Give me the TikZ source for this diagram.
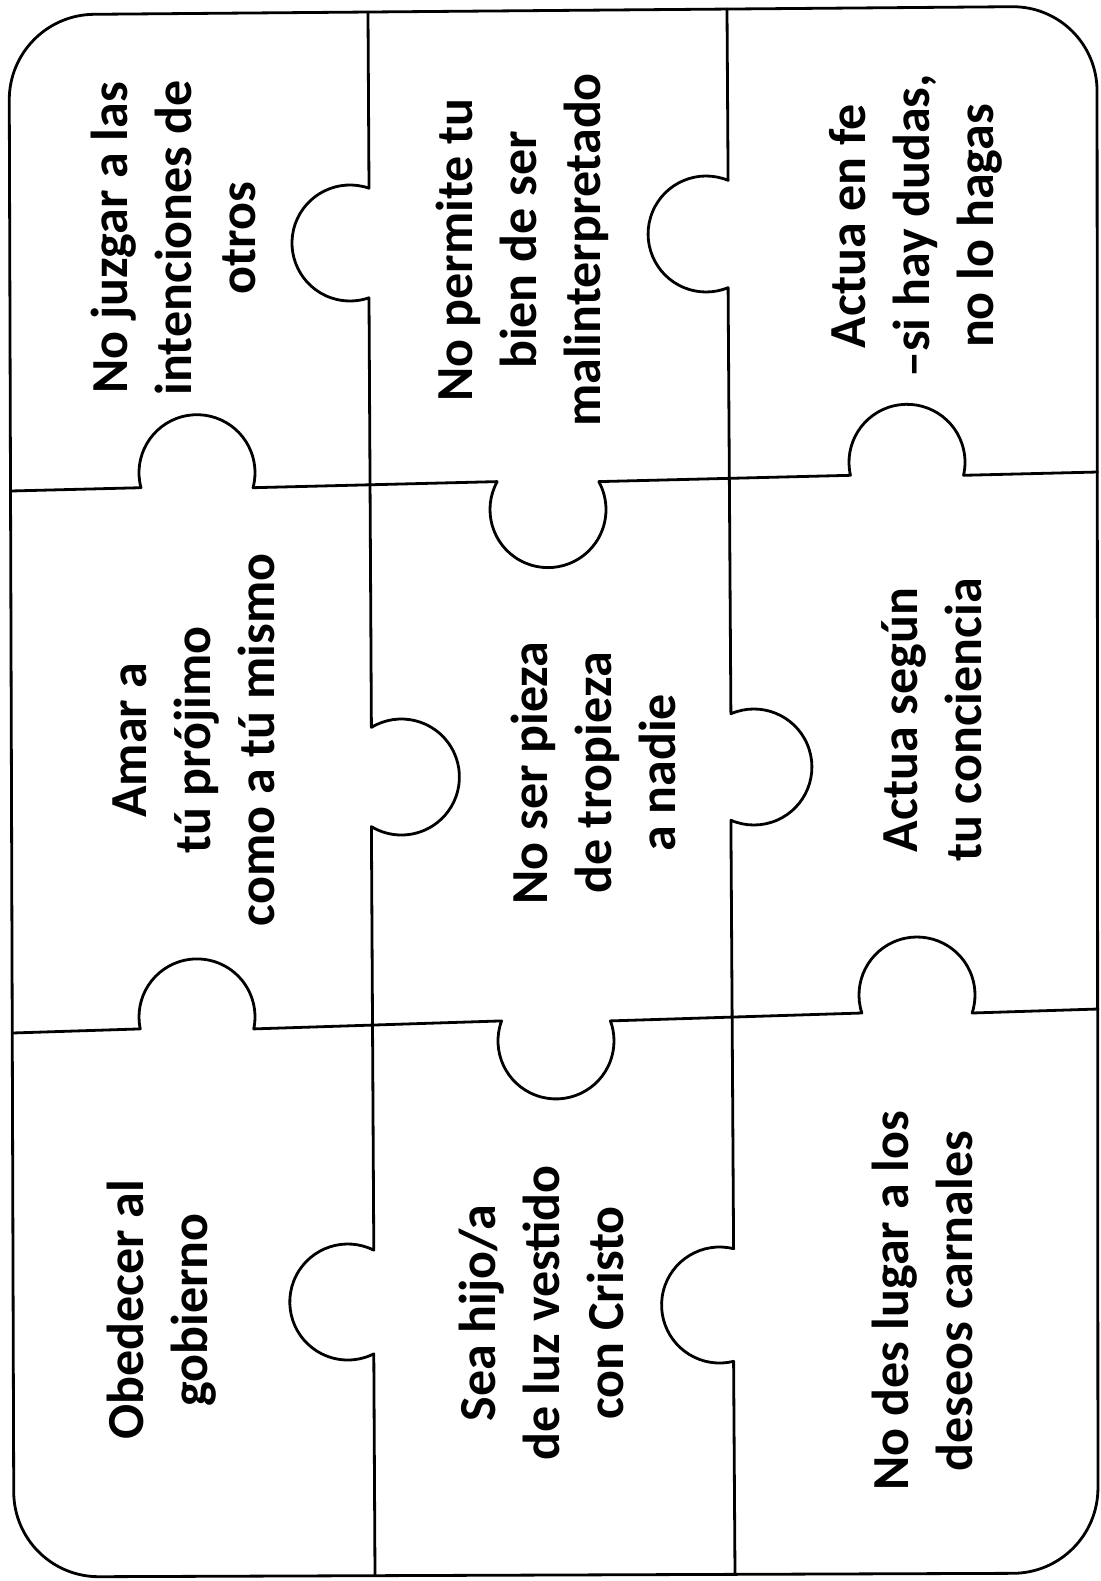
\documentclass[tikz,border=0pt]{standalone}
\usepackage{fontspec}
\setmainfont{Carlito}
\usetikzlibrary{calc}
% knob arcs (radius 58 px); #1,#2 centre, #3 bulge direction, #4 centre offset from the line
\newcommand\knobF[4]{-- ($(#1,#2)+({#3-180+acos(#4/58)}:58)$) arc[start angle={#3-180+acos(#4/58)}, end angle={#3+180-acos(#4/58)}, radius=58]}
\newcommand\knobR[4]{-- ($(#1,#2)+({#3+180-acos(#4/58)}:58)$) arc[start angle={#3+180-acos(#4/58)}, end angle={#3-180+acos(#4/58)}, radius=58]}
\tikzset{
  cut/.style={line width=1.4pt, line join=round, line cap=round},
  lbl/.style={font=\bfseries\fontsize{26}{32}\selectfont, align=center, rotate=90, inner sep=0pt}
}
\begin{document}
\begin{tikzpicture}[x=0.5pt,y=-0.5pt]
\useasboundingbox (0,0) rectangle (1101,1581);
\fill[white] (0,0) rectangle (1101,1581);
% outer frame
\draw[cut, rounded corners=42.5pt] (550,10.5) -- (1097,6) -- (1098,1573) -- (14,1577) -- (9,15) -- cycle;
% vertical cuts
\draw[cut] (368,12) \knobR{350}{243}{180}{19} \knobF{401.4}{777}{0}{30} \knobR{347.8}{1302}{180}{26} -- (375,1575.7);
\draw[cut] (727,9) \knobR{706.1}{234}{180}{22} \knobF{753.9}{767}{0}{23} \knobR{719.6}{1305}{180}{14} -- (735,1574.3);
% horizontal cuts
\draw[cut] (10.5,491) \knobF{197}{472.7}{-90}{15} \knobR{548}{509.6}{90}{28} \knobF{907}{462.3}{-90}{13} -- (1097.6,472);
\draw[cut] (12.3,1033) \knobF{197}{1016.9}{-90}{12} \knobR{556}{1040.9}{90}{20} \knobF{917}{995}{-90}{18} -- (1098,1009);
% texts
\node[lbl] (t1) at (173,238) {No juzgar a las\\intenciones de\\otros};
\node[lbl] (t2) at (522,250) {No permite tu\\bien de ser\\malinterpretado};
\node[lbl] (t3) at (916,226) {Actua en fe\\–si hay dudas,\\no lo hagas};
\node[lbl] (t4) at (194,740) {Amar a\\tú prójimo\\como a tú mismo};
\node[lbl] (t5) at (593,773) {No ser pieza\\de tropieza\\a nadie};
\node[lbl] (t6) at (932,720) {Actua según\\tu conciencia};
\node[lbl] (t7) at (162,1310) {Obedecer al\\gobierno};
\node[lbl] (t8) at (541,1313) {Sea hijo/a\\de luz vestido\\con Cristo};
\node[lbl] (t9) at (922,1301) {No des lugar a los\\deseos carnales};
\end{tikzpicture}
\end{document}
